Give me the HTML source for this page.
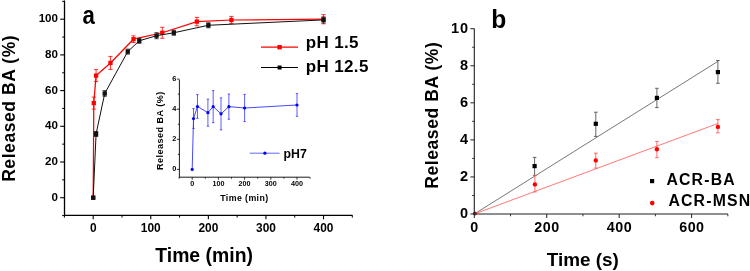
<!DOCTYPE html>
<html><head><meta charset="utf-8"><style>
html,body{margin:0;padding:0;background:#fff;width:750px;height:271px;overflow:hidden}
svg{display:block;font-family:"Liberation Sans", sans-serif;will-change:transform}
</style></head><body>
<svg width="750" height="271" viewBox="0 0 750 271">
<rect width="750" height="271" fill="#fff"/>
<line x1="64.50" y1="0.50" x2="64.50" y2="215.30" stroke="#000" stroke-width="1.3"/>
<line x1="63.90" y1="215.30" x2="352.50" y2="215.30" stroke="#000" stroke-width="1.3"/>
<line x1="60.20" y1="197.70" x2="64.50" y2="197.70" stroke="#000" stroke-width="1.1"/>
<text x="58.00" y="200.60" font-size="11.6" text-anchor="end" font-weight="bold">0</text>
<line x1="60.20" y1="162.00" x2="64.50" y2="162.00" stroke="#000" stroke-width="1.1"/>
<text x="58.00" y="164.90" font-size="11.6" text-anchor="end" font-weight="bold">20</text>
<line x1="60.20" y1="126.30" x2="64.50" y2="126.30" stroke="#000" stroke-width="1.1"/>
<text x="58.00" y="129.20" font-size="11.6" text-anchor="end" font-weight="bold">40</text>
<line x1="60.20" y1="90.60" x2="64.50" y2="90.60" stroke="#000" stroke-width="1.1"/>
<text x="58.00" y="93.50" font-size="11.6" text-anchor="end" font-weight="bold">60</text>
<line x1="60.20" y1="54.90" x2="64.50" y2="54.90" stroke="#000" stroke-width="1.1"/>
<text x="58.00" y="57.80" font-size="11.6" text-anchor="end" font-weight="bold">80</text>
<line x1="60.20" y1="19.20" x2="64.50" y2="19.20" stroke="#000" stroke-width="1.1"/>
<text x="58.00" y="22.10" font-size="11.6" text-anchor="end" font-weight="bold">100</text>
<line x1="62.20" y1="215.55" x2="64.50" y2="215.55" stroke="#000" stroke-width="1.0"/>
<line x1="62.20" y1="179.85" x2="64.50" y2="179.85" stroke="#000" stroke-width="1.0"/>
<line x1="62.20" y1="144.15" x2="64.50" y2="144.15" stroke="#000" stroke-width="1.0"/>
<line x1="62.20" y1="108.45" x2="64.50" y2="108.45" stroke="#000" stroke-width="1.0"/>
<line x1="62.20" y1="72.75" x2="64.50" y2="72.75" stroke="#000" stroke-width="1.0"/>
<line x1="62.20" y1="37.05" x2="64.50" y2="37.05" stroke="#000" stroke-width="1.0"/>
<line x1="62.20" y1="1.35" x2="64.50" y2="1.35" stroke="#000" stroke-width="1.0"/>
<line x1="93.20" y1="215.30" x2="93.20" y2="219.30" stroke="#000" stroke-width="1.1"/>
<text x="93.20" y="232.20" font-size="11.9" text-anchor="middle" font-weight="bold">0</text>
<line x1="150.78" y1="215.30" x2="150.78" y2="219.30" stroke="#000" stroke-width="1.1"/>
<text x="150.78" y="232.20" font-size="11.9" text-anchor="middle" font-weight="bold">100</text>
<line x1="208.36" y1="215.30" x2="208.36" y2="219.30" stroke="#000" stroke-width="1.1"/>
<text x="208.36" y="232.20" font-size="11.9" text-anchor="middle" font-weight="bold">200</text>
<line x1="265.94" y1="215.30" x2="265.94" y2="219.30" stroke="#000" stroke-width="1.1"/>
<text x="265.94" y="232.20" font-size="11.9" text-anchor="middle" font-weight="bold">300</text>
<line x1="323.52" y1="215.30" x2="323.52" y2="219.30" stroke="#000" stroke-width="1.1"/>
<text x="323.52" y="232.20" font-size="11.9" text-anchor="middle" font-weight="bold">400</text>
<line x1="64.41" y1="215.30" x2="64.41" y2="217.60" stroke="#000" stroke-width="1.0"/>
<line x1="121.99" y1="215.30" x2="121.99" y2="217.60" stroke="#000" stroke-width="1.0"/>
<line x1="179.57" y1="215.30" x2="179.57" y2="217.60" stroke="#000" stroke-width="1.0"/>
<line x1="237.15" y1="215.30" x2="237.15" y2="217.60" stroke="#000" stroke-width="1.0"/>
<line x1="294.73" y1="215.30" x2="294.73" y2="217.60" stroke="#000" stroke-width="1.0"/>
<line x1="352.31" y1="215.30" x2="352.31" y2="217.60" stroke="#000" stroke-width="1.0"/>
<polyline points="93.20,197.70 93.78,103.09 96.08,75.61 110.47,62.93 133.51,39.19 162.30,32.77 196.84,21.61 231.39,20.00 323.52,19.20" fill="none" stroke="#ff0000" stroke-width="1.25"/>
<line x1="93.78" y1="97.09" x2="93.78" y2="109.09" stroke="#ff0000" stroke-width="0.8"/>
<line x1="91.68" y1="97.09" x2="95.88" y2="97.09" stroke="#ff0000" stroke-width="0.8"/>
<line x1="91.68" y1="109.09" x2="95.88" y2="109.09" stroke="#ff0000" stroke-width="0.8"/>
<line x1="96.08" y1="69.61" x2="96.08" y2="81.61" stroke="#ff0000" stroke-width="0.8"/>
<line x1="93.98" y1="69.61" x2="98.18" y2="69.61" stroke="#ff0000" stroke-width="0.8"/>
<line x1="93.98" y1="81.61" x2="98.18" y2="81.61" stroke="#ff0000" stroke-width="0.8"/>
<line x1="110.47" y1="56.43" x2="110.47" y2="69.43" stroke="#ff0000" stroke-width="0.8"/>
<line x1="108.37" y1="56.43" x2="112.57" y2="56.43" stroke="#ff0000" stroke-width="0.8"/>
<line x1="108.37" y1="69.43" x2="112.57" y2="69.43" stroke="#ff0000" stroke-width="0.8"/>
<line x1="133.51" y1="35.89" x2="133.51" y2="42.49" stroke="#ff0000" stroke-width="0.8"/>
<line x1="131.41" y1="35.89" x2="135.61" y2="35.89" stroke="#ff0000" stroke-width="0.8"/>
<line x1="131.41" y1="42.49" x2="135.61" y2="42.49" stroke="#ff0000" stroke-width="0.8"/>
<line x1="162.30" y1="27.27" x2="162.30" y2="38.27" stroke="#ff0000" stroke-width="0.8"/>
<line x1="160.20" y1="27.27" x2="164.40" y2="27.27" stroke="#ff0000" stroke-width="0.8"/>
<line x1="160.20" y1="38.27" x2="164.40" y2="38.27" stroke="#ff0000" stroke-width="0.8"/>
<line x1="196.84" y1="17.41" x2="196.84" y2="25.81" stroke="#ff0000" stroke-width="0.8"/>
<line x1="194.74" y1="17.41" x2="198.94" y2="17.41" stroke="#ff0000" stroke-width="0.8"/>
<line x1="194.74" y1="25.81" x2="198.94" y2="25.81" stroke="#ff0000" stroke-width="0.8"/>
<line x1="231.39" y1="16.40" x2="231.39" y2="23.60" stroke="#ff0000" stroke-width="0.8"/>
<line x1="229.29" y1="16.40" x2="233.49" y2="16.40" stroke="#ff0000" stroke-width="0.8"/>
<line x1="229.29" y1="23.60" x2="233.49" y2="23.60" stroke="#ff0000" stroke-width="0.8"/>
<line x1="323.52" y1="14.60" x2="323.52" y2="23.80" stroke="#ff0000" stroke-width="0.8"/>
<line x1="321.42" y1="14.60" x2="325.62" y2="14.60" stroke="#ff0000" stroke-width="0.8"/>
<line x1="321.42" y1="23.80" x2="325.62" y2="23.80" stroke="#ff0000" stroke-width="0.8"/>
<rect x="91.05" y="195.55" width="4.3" height="4.3" fill="#ff0000"/>
<rect x="91.63" y="100.94" width="4.3" height="4.3" fill="#ff0000"/>
<rect x="93.93" y="73.46" width="4.3" height="4.3" fill="#ff0000"/>
<rect x="108.32" y="60.78" width="4.3" height="4.3" fill="#ff0000"/>
<rect x="131.36" y="37.04" width="4.3" height="4.3" fill="#ff0000"/>
<rect x="160.15" y="30.62" width="4.3" height="4.3" fill="#ff0000"/>
<rect x="194.69" y="19.46" width="4.3" height="4.3" fill="#ff0000"/>
<rect x="229.24" y="17.85" width="4.3" height="4.3" fill="#ff0000"/>
<rect x="321.37" y="17.05" width="4.3" height="4.3" fill="#ff0000"/>
<polyline points="93.20,197.70 96.08,133.98 104.72,93.46 127.75,51.60 139.26,40.80 156.54,35.71 173.81,32.77 208.36,25.27 323.52,19.91" fill="none" stroke="#111111" stroke-width="1.0"/>
<line x1="96.08" y1="131.48" x2="96.08" y2="136.48" stroke="#111111" stroke-width="0.8"/>
<line x1="93.98" y1="131.48" x2="98.18" y2="131.48" stroke="#111111" stroke-width="0.8"/>
<line x1="93.98" y1="136.48" x2="98.18" y2="136.48" stroke="#111111" stroke-width="0.8"/>
<line x1="104.72" y1="90.66" x2="104.72" y2="96.26" stroke="#111111" stroke-width="0.8"/>
<line x1="102.62" y1="90.66" x2="106.82" y2="90.66" stroke="#111111" stroke-width="0.8"/>
<line x1="102.62" y1="96.26" x2="106.82" y2="96.26" stroke="#111111" stroke-width="0.8"/>
<line x1="127.75" y1="49.10" x2="127.75" y2="54.10" stroke="#111111" stroke-width="0.8"/>
<line x1="125.65" y1="49.10" x2="129.85" y2="49.10" stroke="#111111" stroke-width="0.8"/>
<line x1="125.65" y1="54.10" x2="129.85" y2="54.10" stroke="#111111" stroke-width="0.8"/>
<line x1="139.26" y1="38.30" x2="139.26" y2="43.30" stroke="#111111" stroke-width="0.8"/>
<line x1="137.16" y1="38.30" x2="141.36" y2="38.30" stroke="#111111" stroke-width="0.8"/>
<line x1="137.16" y1="43.30" x2="141.36" y2="43.30" stroke="#111111" stroke-width="0.8"/>
<line x1="156.54" y1="32.71" x2="156.54" y2="38.71" stroke="#111111" stroke-width="0.8"/>
<line x1="154.44" y1="32.71" x2="158.64" y2="32.71" stroke="#111111" stroke-width="0.8"/>
<line x1="154.44" y1="38.71" x2="158.64" y2="38.71" stroke="#111111" stroke-width="0.8"/>
<line x1="173.81" y1="30.27" x2="173.81" y2="35.27" stroke="#111111" stroke-width="0.8"/>
<line x1="171.71" y1="30.27" x2="175.91" y2="30.27" stroke="#111111" stroke-width="0.8"/>
<line x1="171.71" y1="35.27" x2="175.91" y2="35.27" stroke="#111111" stroke-width="0.8"/>
<line x1="208.36" y1="22.77" x2="208.36" y2="27.77" stroke="#111111" stroke-width="0.8"/>
<line x1="206.26" y1="22.77" x2="210.46" y2="22.77" stroke="#111111" stroke-width="0.8"/>
<line x1="206.26" y1="27.77" x2="210.46" y2="27.77" stroke="#111111" stroke-width="0.8"/>
<line x1="323.52" y1="16.91" x2="323.52" y2="22.91" stroke="#111111" stroke-width="0.8"/>
<line x1="321.42" y1="16.91" x2="325.62" y2="16.91" stroke="#111111" stroke-width="0.8"/>
<line x1="321.42" y1="22.91" x2="325.62" y2="22.91" stroke="#111111" stroke-width="0.8"/>
<rect x="91.05" y="195.55" width="4.3" height="4.3" fill="#111111"/>
<rect x="93.93" y="131.83" width="4.3" height="4.3" fill="#111111"/>
<rect x="102.57" y="91.31" width="4.3" height="4.3" fill="#111111"/>
<rect x="125.60" y="49.45" width="4.3" height="4.3" fill="#111111"/>
<rect x="137.11" y="38.65" width="4.3" height="4.3" fill="#111111"/>
<rect x="154.39" y="33.56" width="4.3" height="4.3" fill="#111111"/>
<rect x="171.66" y="30.62" width="4.3" height="4.3" fill="#111111"/>
<rect x="206.21" y="23.12" width="4.3" height="4.3" fill="#111111"/>
<rect x="321.37" y="17.76" width="4.3" height="4.3" fill="#111111"/>
<text transform="translate(82.6,23.8) scale(0.88,1)" font-size="25.2" font-weight="bold">a</text>
<text transform="translate(14.8,108.3) rotate(-90)" font-size="17.5" letter-spacing="0.58" font-weight="bold" text-anchor="middle">Released BA (%)</text>
<text x="204.10" y="261.70" font-size="19.4" text-anchor="middle" font-weight="bold">Time (min)</text>
<line x1="261.00" y1="47.20" x2="298.00" y2="47.20" stroke="#ff0000" stroke-width="1.2"/>
<rect x="277.40000000000003" y="45.0" width="4.4" height="4.4" fill="#ff0000"/>
<line x1="261.00" y1="67.50" x2="298.00" y2="67.50" stroke="#000" stroke-width="1.2"/>
<rect x="277.6" y="65.5" width="4" height="4" fill="#000"/>
<text x="305.80" y="48.40" font-size="17" text-anchor="start" font-weight="bold" letter-spacing="0.35">pH 1.5</text>
<text x="305.80" y="71.70" font-size="17" text-anchor="start" font-weight="bold" letter-spacing="0.35">pH 12.5</text>
<line x1="179.40" y1="79.60" x2="179.40" y2="177.20" stroke="#1a1a1a" stroke-width="1.0"/>
<line x1="179.00" y1="177.20" x2="309.80" y2="177.20" stroke="#1a1a1a" stroke-width="1.0"/>
<line x1="176.90" y1="169.40" x2="179.40" y2="169.40" stroke="#000" stroke-width="0.8"/>
<text x="176.30" y="171.40" font-size="7.4" text-anchor="end" font-weight="bold">0</text>
<line x1="176.90" y1="139.30" x2="179.40" y2="139.30" stroke="#000" stroke-width="0.8"/>
<text x="176.30" y="141.30" font-size="7.4" text-anchor="end" font-weight="bold">2</text>
<line x1="176.90" y1="109.20" x2="179.40" y2="109.20" stroke="#000" stroke-width="0.8"/>
<text x="176.30" y="111.20" font-size="7.4" text-anchor="end" font-weight="bold">4</text>
<line x1="176.90" y1="79.10" x2="179.40" y2="79.10" stroke="#000" stroke-width="0.8"/>
<text x="176.30" y="81.10" font-size="7.4" text-anchor="end" font-weight="bold">6</text>
<line x1="177.90" y1="154.35" x2="179.40" y2="154.35" stroke="#000" stroke-width="0.8"/>
<line x1="177.90" y1="124.25" x2="179.40" y2="124.25" stroke="#000" stroke-width="0.8"/>
<line x1="177.90" y1="94.15" x2="179.40" y2="94.15" stroke="#000" stroke-width="0.8"/>
<line x1="192.20" y1="177.20" x2="192.20" y2="179.70" stroke="#000" stroke-width="0.8"/>
<text x="192.20" y="186.10" font-size="7.2" text-anchor="middle" font-weight="bold">0</text>
<line x1="218.40" y1="177.20" x2="218.40" y2="179.70" stroke="#000" stroke-width="0.8"/>
<text x="218.40" y="186.10" font-size="7.2" text-anchor="middle" font-weight="bold">100</text>
<line x1="244.60" y1="177.20" x2="244.60" y2="179.70" stroke="#000" stroke-width="0.8"/>
<text x="244.60" y="186.10" font-size="7.2" text-anchor="middle" font-weight="bold">200</text>
<line x1="270.80" y1="177.20" x2="270.80" y2="179.70" stroke="#000" stroke-width="0.8"/>
<text x="270.80" y="186.10" font-size="7.2" text-anchor="middle" font-weight="bold">300</text>
<line x1="297.00" y1="177.20" x2="297.00" y2="179.70" stroke="#000" stroke-width="0.8"/>
<text x="297.00" y="186.10" font-size="7.2" text-anchor="middle" font-weight="bold">400</text>
<line x1="179.10" y1="177.20" x2="179.10" y2="178.70" stroke="#000" stroke-width="0.8"/>
<line x1="205.30" y1="177.20" x2="205.30" y2="178.70" stroke="#000" stroke-width="0.8"/>
<line x1="231.50" y1="177.20" x2="231.50" y2="178.70" stroke="#000" stroke-width="0.8"/>
<line x1="257.70" y1="177.20" x2="257.70" y2="178.70" stroke="#000" stroke-width="0.8"/>
<line x1="283.90" y1="177.20" x2="283.90" y2="178.70" stroke="#000" stroke-width="0.8"/>
<line x1="310.10" y1="177.20" x2="310.10" y2="178.70" stroke="#000" stroke-width="0.8"/>
<polyline points="192.20,169.40 193.51,118.53 197.44,106.49 207.92,112.66 213.16,106.64 221.02,113.87 228.88,106.64 244.60,108.00 297.00,104.99" fill="none" stroke="#3333ff" stroke-width="0.9"/>
<circle cx="192.20" cy="169.40" r="1.6" fill="#0000ff"/>
<line x1="193.51" y1="108.63" x2="193.51" y2="128.43" stroke="#3333ff" stroke-width="0.8"/>
<line x1="192.31" y1="108.63" x2="194.71" y2="108.63" stroke="#3333ff" stroke-width="0.8"/>
<line x1="192.31" y1="128.43" x2="194.71" y2="128.43" stroke="#3333ff" stroke-width="0.8"/>
<circle cx="193.51" cy="118.53" r="1.6" fill="#0000ff"/>
<line x1="197.44" y1="94.64" x2="197.44" y2="118.34" stroke="#3333ff" stroke-width="0.8"/>
<line x1="196.24" y1="94.64" x2="198.64" y2="94.64" stroke="#3333ff" stroke-width="0.8"/>
<line x1="196.24" y1="118.34" x2="198.64" y2="118.34" stroke="#3333ff" stroke-width="0.8"/>
<circle cx="197.44" cy="106.49" r="1.6" fill="#0000ff"/>
<line x1="207.92" y1="99.16" x2="207.92" y2="126.16" stroke="#3333ff" stroke-width="0.8"/>
<line x1="206.72" y1="99.16" x2="209.12" y2="99.16" stroke="#3333ff" stroke-width="0.8"/>
<line x1="206.72" y1="126.16" x2="209.12" y2="126.16" stroke="#3333ff" stroke-width="0.8"/>
<circle cx="207.92" cy="112.66" r="1.6" fill="#0000ff"/>
<line x1="213.16" y1="90.64" x2="213.16" y2="122.64" stroke="#3333ff" stroke-width="0.8"/>
<line x1="211.96" y1="90.64" x2="214.36" y2="90.64" stroke="#3333ff" stroke-width="0.8"/>
<line x1="211.96" y1="122.64" x2="214.36" y2="122.64" stroke="#3333ff" stroke-width="0.8"/>
<circle cx="213.16" cy="106.64" r="1.6" fill="#0000ff"/>
<line x1="221.02" y1="97.87" x2="221.02" y2="129.87" stroke="#3333ff" stroke-width="0.8"/>
<line x1="219.82" y1="97.87" x2="222.22" y2="97.87" stroke="#3333ff" stroke-width="0.8"/>
<line x1="219.82" y1="129.87" x2="222.22" y2="129.87" stroke="#3333ff" stroke-width="0.8"/>
<circle cx="221.02" cy="113.87" r="1.6" fill="#0000ff"/>
<line x1="228.88" y1="94.04" x2="228.88" y2="119.24" stroke="#3333ff" stroke-width="0.8"/>
<line x1="227.68" y1="94.04" x2="230.08" y2="94.04" stroke="#3333ff" stroke-width="0.8"/>
<line x1="227.68" y1="119.24" x2="230.08" y2="119.24" stroke="#3333ff" stroke-width="0.8"/>
<circle cx="228.88" cy="106.64" r="1.6" fill="#0000ff"/>
<line x1="244.60" y1="94.40" x2="244.60" y2="121.60" stroke="#3333ff" stroke-width="0.8"/>
<line x1="243.40" y1="94.40" x2="245.80" y2="94.40" stroke="#3333ff" stroke-width="0.8"/>
<line x1="243.40" y1="121.60" x2="245.80" y2="121.60" stroke="#3333ff" stroke-width="0.8"/>
<circle cx="244.60" cy="108.00" r="1.6" fill="#0000ff"/>
<line x1="297.00" y1="93.64" x2="297.00" y2="116.34" stroke="#3333ff" stroke-width="0.8"/>
<line x1="295.80" y1="93.64" x2="298.20" y2="93.64" stroke="#3333ff" stroke-width="0.8"/>
<line x1="295.80" y1="116.34" x2="298.20" y2="116.34" stroke="#3333ff" stroke-width="0.8"/>
<circle cx="297.00" cy="104.99" r="1.6" fill="#0000ff"/>
<text transform="translate(163.0,130.7) rotate(-90)" font-size="9" letter-spacing="0.5" font-weight="bold" text-anchor="middle">Released BA (%)</text>
<text x="244.40" y="200.80" font-size="8.8" text-anchor="middle" font-weight="bold" letter-spacing="0.4">Time (min)</text>
<line x1="249.70" y1="153.20" x2="279.50" y2="153.20" stroke="#5555ff" stroke-width="0.9"/>
<circle cx="264.9" cy="153.2" r="1.6" fill="#0000ff"/>
<text x="283.50" y="158.00" font-size="12.3" text-anchor="start" font-weight="bold">pH7</text>
<line x1="474.30" y1="214.00" x2="718.00" y2="61.30" stroke="#606060" stroke-width="0.85"/>
<line x1="474.30" y1="214.00" x2="718.00" y2="123.40" stroke="#ff6060" stroke-width="0.85"/>
<circle cx="474.90" cy="213.40" r="2.0" fill="#ff0000"/>
<line x1="534.60" y1="157.40" x2="534.60" y2="175.40" stroke="#555" stroke-width="0.9"/>
<line x1="532.80" y1="157.40" x2="536.40" y2="157.40" stroke="#555" stroke-width="0.9"/>
<line x1="532.80" y1="175.40" x2="536.40" y2="175.40" stroke="#555" stroke-width="0.9"/>
<rect x="532.50" y="164.00" width="4.2" height="4.2" fill="#000"/>
<line x1="595.80" y1="112.20" x2="595.80" y2="136.40" stroke="#555" stroke-width="0.9"/>
<line x1="594.00" y1="112.20" x2="597.60" y2="112.20" stroke="#555" stroke-width="0.9"/>
<line x1="594.00" y1="136.40" x2="597.60" y2="136.40" stroke="#555" stroke-width="0.9"/>
<rect x="593.70" y="121.70" width="4.2" height="4.2" fill="#000"/>
<line x1="656.90" y1="88.30" x2="656.90" y2="107.60" stroke="#555" stroke-width="0.9"/>
<line x1="655.10" y1="88.30" x2="658.70" y2="88.30" stroke="#555" stroke-width="0.9"/>
<line x1="655.10" y1="107.60" x2="658.70" y2="107.60" stroke="#555" stroke-width="0.9"/>
<rect x="654.80" y="95.80" width="4.2" height="4.2" fill="#000"/>
<line x1="717.90" y1="60.50" x2="717.90" y2="83.30" stroke="#555" stroke-width="0.9"/>
<line x1="716.10" y1="60.50" x2="719.70" y2="60.50" stroke="#555" stroke-width="0.9"/>
<line x1="716.10" y1="83.30" x2="719.70" y2="83.30" stroke="#555" stroke-width="0.9"/>
<rect x="715.80" y="70.00" width="4.2" height="4.2" fill="#000"/>
<line x1="534.90" y1="175.70" x2="534.90" y2="191.90" stroke="#ff5a5a" stroke-width="0.9"/>
<line x1="533.10" y1="175.70" x2="536.70" y2="175.70" stroke="#ff5a5a" stroke-width="0.9"/>
<line x1="533.10" y1="191.90" x2="536.70" y2="191.90" stroke="#ff5a5a" stroke-width="0.9"/>
<circle cx="534.90" cy="184.40" r="2.2" fill="#ff0000"/>
<line x1="595.80" y1="153.20" x2="595.80" y2="168.10" stroke="#ff5a5a" stroke-width="0.9"/>
<line x1="594.00" y1="153.20" x2="597.60" y2="153.20" stroke="#ff5a5a" stroke-width="0.9"/>
<line x1="594.00" y1="168.10" x2="597.60" y2="168.10" stroke="#ff5a5a" stroke-width="0.9"/>
<circle cx="595.80" cy="160.40" r="2.2" fill="#ff0000"/>
<line x1="656.90" y1="141.40" x2="656.90" y2="157.70" stroke="#ff5a5a" stroke-width="0.9"/>
<line x1="655.10" y1="141.40" x2="658.70" y2="141.40" stroke="#ff5a5a" stroke-width="0.9"/>
<line x1="655.10" y1="157.70" x2="658.70" y2="157.70" stroke="#ff5a5a" stroke-width="0.9"/>
<circle cx="656.90" cy="149.20" r="2.2" fill="#ff0000"/>
<line x1="717.90" y1="119.60" x2="717.90" y2="132.90" stroke="#ff5a5a" stroke-width="0.9"/>
<line x1="716.10" y1="119.60" x2="719.70" y2="119.60" stroke="#ff5a5a" stroke-width="0.9"/>
<line x1="716.10" y1="132.90" x2="719.70" y2="132.90" stroke="#ff5a5a" stroke-width="0.9"/>
<circle cx="717.90" cy="126.90" r="2.2" fill="#ff0000"/>
<line x1="474.30" y1="28.40" x2="474.30" y2="214.00" stroke="#202020" stroke-width="1.1"/>
<line x1="473.80" y1="214.00" x2="727.84" y2="214.00" stroke="#202020" stroke-width="1.1"/>
<line x1="470.40" y1="214.00" x2="474.30" y2="214.00" stroke="#202020" stroke-width="1.0"/>
<text x="469.00" y="218.20" font-size="14.5" text-anchor="end" font-weight="bold" letter-spacing="0.9">0</text>
<line x1="470.40" y1="176.94" x2="474.30" y2="176.94" stroke="#202020" stroke-width="1.0"/>
<text x="469.00" y="181.14" font-size="14.5" text-anchor="end" font-weight="bold" letter-spacing="0.9">2</text>
<line x1="470.40" y1="139.88" x2="474.30" y2="139.88" stroke="#202020" stroke-width="1.0"/>
<text x="469.00" y="144.08" font-size="14.5" text-anchor="end" font-weight="bold" letter-spacing="0.9">4</text>
<line x1="470.40" y1="102.82" x2="474.30" y2="102.82" stroke="#202020" stroke-width="1.0"/>
<text x="469.00" y="107.02" font-size="14.5" text-anchor="end" font-weight="bold" letter-spacing="0.9">6</text>
<line x1="470.40" y1="65.76" x2="474.30" y2="65.76" stroke="#202020" stroke-width="1.0"/>
<text x="469.00" y="69.96" font-size="14.5" text-anchor="end" font-weight="bold" letter-spacing="0.9">8</text>
<line x1="470.40" y1="28.70" x2="474.30" y2="28.70" stroke="#202020" stroke-width="1.0"/>
<text x="469.00" y="32.90" font-size="14.5" text-anchor="end" font-weight="bold" letter-spacing="0.9">10</text>
<line x1="472.10" y1="195.47" x2="474.30" y2="195.47" stroke="#202020" stroke-width="0.9"/>
<line x1="472.10" y1="158.41" x2="474.30" y2="158.41" stroke="#202020" stroke-width="0.9"/>
<line x1="472.10" y1="121.35" x2="474.30" y2="121.35" stroke="#202020" stroke-width="0.9"/>
<line x1="472.10" y1="84.29" x2="474.30" y2="84.29" stroke="#202020" stroke-width="0.9"/>
<line x1="472.10" y1="47.23" x2="474.30" y2="47.23" stroke="#202020" stroke-width="0.9"/>
<line x1="474.30" y1="214.00" x2="474.30" y2="218.00" stroke="#202020" stroke-width="1.0"/>
<text x="474.55" y="231.60" font-size="14.3" text-anchor="middle" font-weight="bold" letter-spacing="0.5">0</text>
<line x1="546.74" y1="214.00" x2="546.74" y2="218.00" stroke="#202020" stroke-width="1.0"/>
<text x="546.99" y="231.60" font-size="14.3" text-anchor="middle" font-weight="bold" letter-spacing="0.5">200</text>
<line x1="619.18" y1="214.00" x2="619.18" y2="218.00" stroke="#202020" stroke-width="1.0"/>
<text x="619.43" y="231.60" font-size="14.3" text-anchor="middle" font-weight="bold" letter-spacing="0.5">400</text>
<line x1="691.62" y1="214.00" x2="691.62" y2="218.00" stroke="#202020" stroke-width="1.0"/>
<text x="691.87" y="231.60" font-size="14.3" text-anchor="middle" font-weight="bold" letter-spacing="0.5">600</text>
<line x1="510.52" y1="214.00" x2="510.52" y2="216.30" stroke="#202020" stroke-width="0.9"/>
<line x1="582.96" y1="214.00" x2="582.96" y2="216.30" stroke="#202020" stroke-width="0.9"/>
<line x1="655.40" y1="214.00" x2="655.40" y2="216.30" stroke="#202020" stroke-width="0.9"/>
<line x1="727.84" y1="214.00" x2="727.84" y2="216.30" stroke="#202020" stroke-width="0.9"/>
<text transform="translate(491.3,27.6) scale(0.97,1)" font-size="25.4" font-weight="bold">b</text>
<text transform="translate(438.3,115.2) rotate(-90)" font-size="17.5" letter-spacing="0.58" font-weight="bold" text-anchor="middle">Released BA (%)</text>
<text x="582.80" y="266.30" font-size="18.9" text-anchor="middle" font-weight="bold">Time (s)</text>
<rect x="650" y="179" width="4.2" height="4.2" fill="#000"/>
<circle cx="652.2" cy="203.1" r="2.3" fill="#ff0000"/>
<text x="666.40" y="184.80" font-size="15.8" text-anchor="start" font-weight="bold" letter-spacing="1.2">ACR-BA</text>
<text x="668.40" y="206.30" font-size="15.8" text-anchor="start" font-weight="bold" letter-spacing="1.2">ACR-MSN</text>
</svg></body></html>
